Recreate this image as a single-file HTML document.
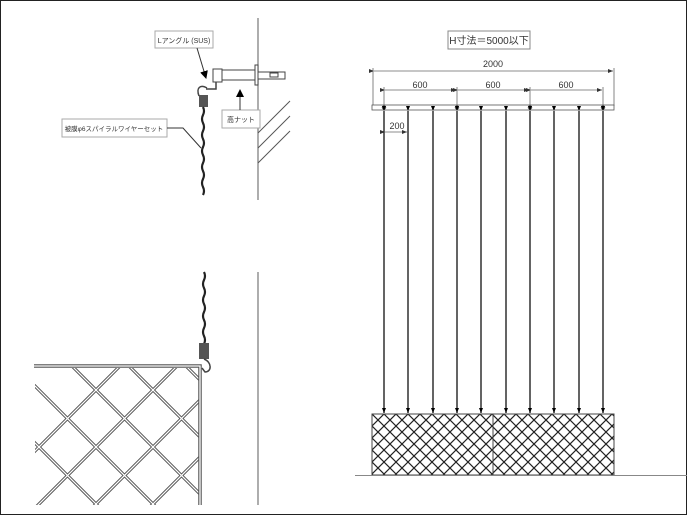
<!DOCTYPE html>
<html><head><meta charset="utf-8"><style>
html,body{margin:0;padding:0;background:#fff;width:687px;height:515px;overflow:hidden}
svg{display:block}
text{font-family:"Liberation Sans","Noto Sans CJK JP",sans-serif;fill:#333}
</style></head><body>
<svg width="687" height="515" viewBox="0 0 687 515" xmlns="http://www.w3.org/2000/svg">
<defs>
<marker id="ar" markerUnits="userSpaceOnUse" markerWidth="5" markerHeight="4" refX="5" refY="2" orient="auto"><path d="M0,0 L5,2 L0,4z" fill="#333"/></marker>
<marker id="ad" markerUnits="userSpaceOnUse" markerWidth="5" markerHeight="4" refX="5" refY="2" orient="auto"><path d="M0,0 L5,2 L0,4z" fill="#000"/></marker>
<marker id="ab" markerUnits="userSpaceOnUse" markerWidth="8" markerHeight="8" refX="7" refY="4" orient="auto"><path d="M0,0 L8,4 L0,8z" fill="#000"/></marker>
<pattern id="mesh" width="12" height="12" patternUnits="userSpaceOnUse" x="372" y="414">
<path d="M0,0 L12,12 M12,0 L0,12" stroke="#222" stroke-width="1.2" fill="none"/>
</pattern>
<clipPath id="lm"><rect x="35" y="368" width="165" height="137"/></clipPath>
</defs>
<rect x="0.5" y="0.5" width="686" height="514" fill="none" stroke="#222"/>

<line x1="258" y1="18" x2="258" y2="200" stroke="#777" stroke-width="1.2"/>
<line x1="258" y1="272" x2="258" y2="505" stroke="#777" stroke-width="1.2"/>
<g stroke="#555" stroke-width="1"><line x1="258" y1="133" x2="290" y2="101"/><line x1="258" y1="148" x2="290" y2="116"/><line x1="258" y1="163" x2="290" y2="131"/></g>

<g stroke="#444" stroke-width="1" fill="#fff">
<rect x="255" y="65" width="3" height="20"/>
<rect x="222" y="70" width="33" height="10"/>
<rect x="258" y="72" width="27" height="7"/>
<rect x="270" y="73" width="8" height="4"/>
<rect x="213" y="69" width="9" height="13"/>
<path d="M216,82 L216,89 L206,89" fill="none" stroke-width="1.5"/>
<path d="M207,88 C200,84 196,88 199,96" fill="none" stroke-width="1.5"/>
</g>
<rect x="199" y="95" width="9" height="12" fill="#555"/>
<path d="M203,107 q2,4 0,8 q-2,4 0,8 q2,4 0,8 q-2,4 0,8 q2,4 0,8 q-2,4 0,8 q2,4 0,8 q-2,4 0,8 q2,4 0,8 q-2,4 0,8 q2,4 0,8" fill="none" stroke="#222" stroke-width="2.2"/>
<path d="M204,272 q2,4 0,8 q-2,4 0,8 q2,4 0,8 q-2,4 0,8 q2,4 0,8 q-2,4 0,8 q2,4 0,8 q-2,4 0,8 q2,4 0,8" fill="none" stroke="#222" stroke-width="2.2"/>
<rect x="199" y="343" width="10" height="16" fill="#555"/>
<path d="M204,359 C212,362 212,372 205,372 L202,368" fill="none" stroke="#444" stroke-width="1.5"/>

<rect x="155" y="31" width="58" height="17" fill="#fff" stroke="#aaa"/>
<text x="184" y="43" font-size="7" text-anchor="middle">Lアングル (SUS)</text>
<line x1="197" y1="48" x2="206" y2="78" stroke="#333" marker-end="url(#ab)"/>
<rect x="222" y="110" width="38" height="18" fill="#fff" stroke="#aaa"/>
<text x="241" y="122" font-size="7" text-anchor="middle">高ナット</text>
<line x1="240" y1="110" x2="240" y2="90" stroke="#333" marker-end="url(#ab)"/>
<rect x="62" y="119" width="105" height="18" fill="#fff" stroke="#aaa"/>
<text x="114" y="131" font-size="6.5" text-anchor="middle">被膜φ6スパイラルワイヤーセット</text>
<polyline points="167,128 183,128 201,148" fill="none" stroke="#333"/>

<g clip-path="url(#lm)">
<g stroke="#555" stroke-width="3.2" fill="none">
<line x1="-200" y1="686" x2="400" y2="86"/><line x1="-143" y1="686" x2="457" y2="86"/><line x1="-86" y1="686" x2="514" y2="86"/><line x1="-29" y1="686" x2="571" y2="86"/><line x1="28" y1="686" x2="628" y2="86"/><line x1="85" y1="686" x2="685" y2="86"/><line x1="142" y1="686" x2="742" y2="86"/>
<line x1="-200" y1="94" x2="400" y2="694"/><line x1="-143" y1="94" x2="457" y2="694"/><line x1="-86" y1="94" x2="514" y2="694"/><line x1="-29" y1="94" x2="571" y2="694"/><line x1="28" y1="94" x2="628" y2="694"/><line x1="-257" y1="94" x2="343" y2="694"/><line x1="-314" y1="94" x2="286" y2="694"/>
</g>
<g stroke="#fff" stroke-width="1.2" fill="none">
<line x1="-200" y1="686" x2="400" y2="86"/><line x1="-143" y1="686" x2="457" y2="86"/><line x1="-86" y1="686" x2="514" y2="86"/><line x1="-29" y1="686" x2="571" y2="86"/><line x1="28" y1="686" x2="628" y2="86"/><line x1="85" y1="686" x2="685" y2="86"/><line x1="142" y1="686" x2="742" y2="86"/>
<line x1="-200" y1="94" x2="400" y2="694"/><line x1="-143" y1="94" x2="457" y2="694"/><line x1="-86" y1="94" x2="514" y2="694"/><line x1="-29" y1="94" x2="571" y2="694"/><line x1="28" y1="94" x2="628" y2="694"/><line x1="-257" y1="94" x2="343" y2="694"/><line x1="-314" y1="94" x2="286" y2="694"/>
</g>
</g>
<path d="M34,366 L200,366 L200,505" fill="none" stroke="#555" stroke-width="3.5"/>
<path d="M34,366 L200,366 L200,505" fill="none" stroke="#fff" stroke-width="1.3"/>

<rect x="448" y="31" width="82" height="18" fill="#fff" stroke="#888"/>
<text x="489" y="44" font-size="10" text-anchor="middle">H寸法＝5000以下</text>
<g stroke="#666" stroke-width="0.8">
<line x1="373" y1="68" x2="373" y2="106"/><line x1="614" y1="68" x2="614" y2="106"/>
<line x1="374" y1="71" x2="613" y2="71" marker-start="url(#ar)" marker-end="url(#ar)"/>
<line x1="384" y1="87" x2="384" y2="106"/><line x1="457" y1="87" x2="457" y2="106"/><line x1="530" y1="87" x2="530" y2="106"/><line x1="603" y1="87" x2="603" y2="106"/>
<line x1="385" y1="90" x2="456" y2="90" marker-start="url(#ar)" marker-end="url(#ar)"/>
<line x1="458" y1="90" x2="529" y2="90" marker-start="url(#ar)" marker-end="url(#ar)"/>
<line x1="531" y1="90" x2="602" y2="90" marker-start="url(#ar)" marker-end="url(#ar)"/>
<line x1="385" y1="132" x2="407" y2="132" marker-start="url(#ar)" marker-end="url(#ar)"/>
</g>
<text x="493" y="67" font-size="9" text-anchor="middle">2000</text>
<text x="420" y="88" font-size="9" text-anchor="middle">600</text>
<text x="493" y="88" font-size="9" text-anchor="middle">600</text>
<text x="566" y="88" font-size="9" text-anchor="middle">600</text>
<text x="397" y="129" font-size="9" text-anchor="middle">200</text>
<rect x="372" y="105" width="242" height="5" fill="#fff" stroke="#555" stroke-width="0.8"/>
<g fill="#fff" stroke="#555" stroke-width="0.8"><circle cx="384" cy="107.5" r="1.8"/><circle cx="457" cy="107.5" r="1.8"/><circle cx="530" cy="107.5" r="1.8"/><circle cx="603" cy="107.5" r="1.8"/></g>
<g stroke="#222" stroke-width="1.4" marker-start="url(#ad)" marker-end="url(#ad)">
<line x1="384" y1="111" x2="384" y2="413"/><line x1="408" y1="111" x2="408" y2="413"/><line x1="433" y1="111" x2="433" y2="413"/><line x1="457" y1="111" x2="457" y2="413"/><line x1="481" y1="111" x2="481" y2="413"/><line x1="506" y1="111" x2="506" y2="413"/><line x1="530" y1="111" x2="530" y2="413"/><line x1="554" y1="111" x2="554" y2="413"/><line x1="579" y1="111" x2="579" y2="413"/><line x1="603" y1="111" x2="603" y2="413"/>
</g>
<rect x="372" y="414" width="242" height="61" fill="url(#mesh)" stroke="#444" stroke-width="1"/>
<line x1="493" y1="414" x2="493" y2="475" stroke="#444"/>
<line x1="355" y1="475.5" x2="687" y2="475.5" stroke="#888"/>
</svg>
</body></html>
